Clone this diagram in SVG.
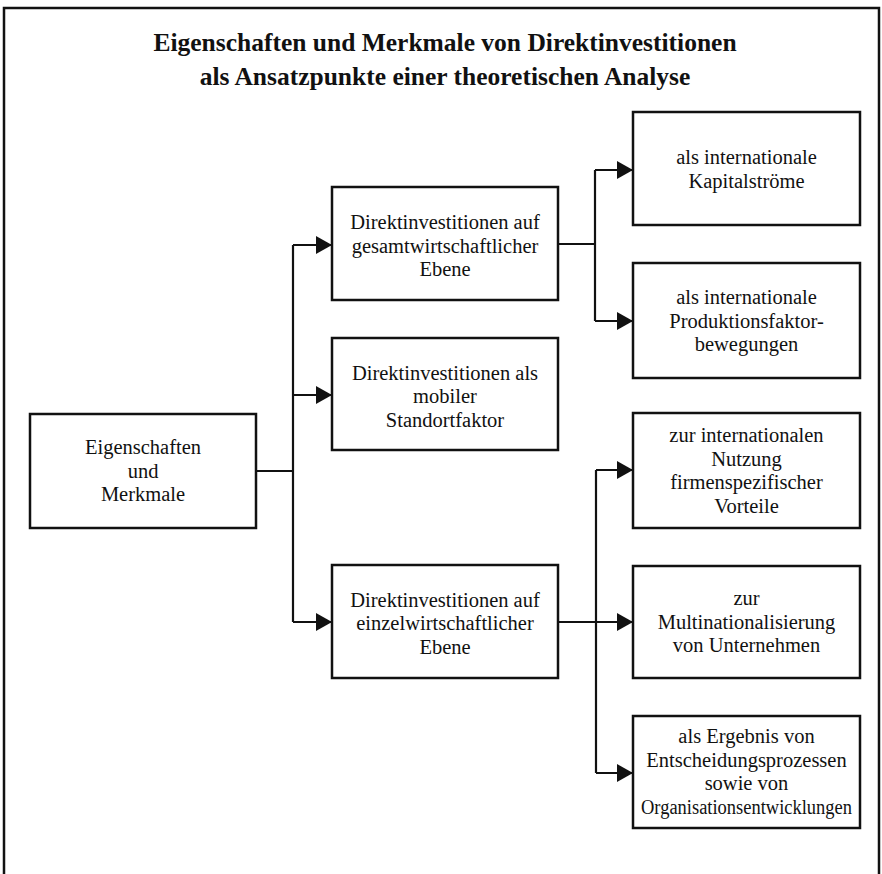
<svg xmlns="http://www.w3.org/2000/svg" width="882" height="874" viewBox="0 0 882 874">
  <style>
    .box { fill: #fff; stroke: #111; stroke-width: 2.5; }
    .lbl { font-family: "Liberation Serif", "Times New Roman", serif; font-size: 20.5px; fill: #111; text-anchor: middle; }
    .title { font-family: "Liberation Serif", "Times New Roman", serif; font-size: 25.5px; font-weight: bold; fill: #111; text-anchor: middle; }
    .wire { fill: none; stroke: #111; stroke-width: 2.2; }
  </style>
  <defs>
    <marker id="arrow" markerUnits="userSpaceOnUse" markerWidth="16" markerHeight="18" refX="16" refY="9" orient="auto">
      <path d="M0,0 L16,9 L0,18 Z" fill="#111"/>
    </marker>
  </defs>

  <rect width="882" height="874" fill="#fff"/>

  <!-- outer frame, open at the bottom -->
  <path d="M4,874 V8 H879 V874" fill="none" stroke="#111" stroke-width="2.5"/>

  <g id="title">
    <text class="title" x="445" y="51">Eigenschaften und Merkmale von Direktinvestitionen</text>
    <text class="title" x="445" y="85">als Ansatzpunkte einer theoretischen Analyse</text>
  </g>

  <g id="connectors">
    <!-- root to level 1 -->
    <path class="wire" d="M256,471 H293"/>
    <path class="wire" d="M293,245 V622"/>
    <path class="wire" d="M293,245 H332" marker-end="url(#arrow)"/>
    <path class="wire" d="M293,395 H332" marker-end="url(#arrow)"/>
    <path class="wire" d="M293,622 H332" marker-end="url(#arrow)"/>
    <!-- macro level branch -->
    <path class="wire" d="M558,244 H595"/>
    <path class="wire" d="M595,170 V321"/>
    <path class="wire" d="M595,170 H633" marker-end="url(#arrow)"/>
    <path class="wire" d="M595,321 H633" marker-end="url(#arrow)"/>
    <!-- micro level branch -->
    <path class="wire" d="M596,470 V773"/>
    <path class="wire" d="M596,470 H633" marker-end="url(#arrow)"/>
    <path class="wire" d="M558,622 H633" marker-end="url(#arrow)"/>
    <path class="wire" d="M596,773 H633" marker-end="url(#arrow)"/>
  </g>

  <g id="root">
    <rect class="box" x="30" y="414" width="226" height="114"/>
    <text class="lbl" x="143" y="454">Eigenschaften</text>
    <text class="lbl" x="143" y="477.5">und</text>
    <text class="lbl" x="143" y="501">Merkmale</text>
  </g>

  <g id="gesamt">
    <rect class="box" x="332" y="187" width="226" height="113"/>
    <text class="lbl" x="445" y="229">Direktinvestitionen auf</text>
    <text class="lbl" x="445" y="252.5">gesamtwirtschaftlicher</text>
    <text class="lbl" x="445" y="276">Ebene</text>
  </g>

  <g id="standort">
    <rect class="box" x="332" y="338" width="226" height="112"/>
    <text class="lbl" x="445" y="379.5">Direktinvestitionen als</text>
    <text class="lbl" x="445" y="403">mobiler</text>
    <text class="lbl" x="445" y="426.5">Standortfaktor</text>
  </g>

  <g id="einzel">
    <rect class="box" x="332" y="565" width="226" height="113"/>
    <text class="lbl" x="445" y="606.5">Direktinvestitionen auf</text>
    <text class="lbl" x="445" y="630">einzelwirtschaftlicher</text>
    <text class="lbl" x="445" y="653.5">Ebene</text>
  </g>

  <g id="kapital">
    <rect class="box" x="633" y="112" width="227" height="113"/>
    <text class="lbl" x="746.5" y="164">als internationale</text>
    <text class="lbl" x="746.5" y="187.5">Kapitalströme</text>
  </g>

  <g id="produktion">
    <rect class="box" x="633" y="263" width="227" height="115"/>
    <text class="lbl" x="746.5" y="304">als internationale</text>
    <text class="lbl" x="746.5" y="327.5">Produktionsfaktor-</text>
    <text class="lbl" x="746.5" y="351">bewegungen</text>
  </g>

  <g id="vorteile">
    <rect class="box" x="633" y="413" width="227" height="115"/>
    <text class="lbl" x="746.5" y="442">zur internationalen</text>
    <text class="lbl" x="746.5" y="465.5">Nutzung</text>
    <text class="lbl" x="746.5" y="489">firmenspezifischer</text>
    <text class="lbl" x="746.5" y="512.5">Vorteile</text>
  </g>

  <g id="multinational">
    <rect class="box" x="633" y="566" width="227" height="112"/>
    <text class="lbl" x="746.5" y="605">zur</text>
    <text class="lbl" x="746.5" y="628.5">Multinationalisierung</text>
    <text class="lbl" x="746.5" y="652">von Unternehmen</text>
  </g>

  <g id="ergebnis">
    <rect class="box" x="633" y="716" width="227" height="112"/>
    <text class="lbl" x="746.5" y="743">als Ergebnis von</text>
    <text class="lbl" x="746.5" y="766.5">Entscheidungsprozessen</text>
    <text class="lbl" x="746.5" y="790">sowie von</text>
    <text class="lbl" x="746.5" y="813.5" textLength="211" lengthAdjust="spacingAndGlyphs">Organisationsentwicklungen</text>
  </g>
</svg>
